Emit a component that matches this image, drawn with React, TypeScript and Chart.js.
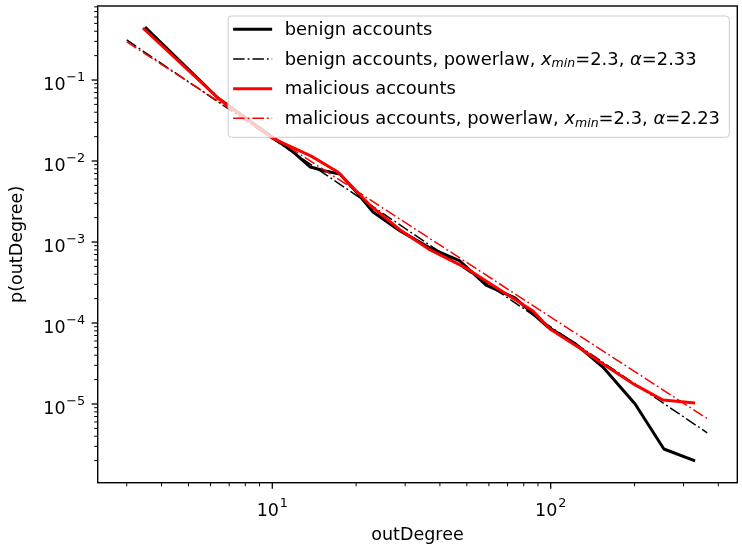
import React, { useEffect, useRef } from 'react';
import { Chart, registerables } from 'chart.js';

Chart.register(...registerables);

// ---------- data ----------
const benignDegree = [3.49, 6.38, 10.0, 11.9, 13.7, 15.5, 17.5, 20.2, 23.0, 28.8, 36.9, 47.2, 58.6, 74.4, 97.8, 123, 154, 201, 255, 330];
const benignProb = [0.451, 0.06, 0.0198, 0.0129, 0.00843, 0.00752, 0.00691, 0.00403, 0.00235, 0.00137, 0.000843, 0.000583, 0.000294, 0.000204, 8.9e-5, 5.5e-5, 2.86e-5, 1.0e-5, 2.78e-6, 1.98e-6];

const maliciousDegree = [3.43, 6.38, 10.0, 13.8, 17.2, 22.4, 28.8, 36.9, 49.6, 65.8, 86.4, 99.4, 127, 158, 201, 253, 330];
const maliciousProb = [0.4385, 0.06, 0.0192, 0.0115, 0.00732, 0.00286, 0.00141, 0.000796, 0.000478, 0.000256, 0.000141, 8.43e-5, 4.91e-5, 2.94e-5, 1.72e-5, 1.12e-5, 1.03e-5];

const benignFitDegree = [3.0, 365];
const benignFitProb = [0.312, 4.4e-6];
const maliciousFitDegree = [3.0, 365];
const maliciousFitProb = [0.296, 6.6e-6];

const xLimits = [2.36, 468];
const yLimits = [1.067e-6, 0.82];

const xTickValues = [10, 100];
const xTickExponents = ['1', '2'];
const yTickValues = [1e-1, 1e-2, 1e-3, 1e-4, 1e-5];
const yTickExponents = ['\u22121', '\u22122', '\u22123', '\u22124', '\u22125'];

const seriesLabels = [
  'benign accounts',
  'benign accounts, powerlaw, $x_{min}$=2.3, $\\alpha$=2.33',
  'malicious accounts',
  'malicious accounts, powerlaw, $x_{min}$=2.3, $\\alpha$=2.23',
];
const xTitle = 'outDegree';
const yTitle = 'p(outDegree)';

// ---------- helpers ----------
const FAMILY = '"DejaVu Sans"';
const FS = 17.5;
const LFS = 17.9;
const SUP = 12.8;
const fnt = (size: number, italic = false) => `${italic ? 'italic ' : ''}${size}px ${FAMILY}`;

type Seg = { t: string; it?: boolean; sub?: boolean };
function parseMath(label: string): Seg[] {
  const segs: Seg[] = [];
  label.split('$').forEach((p, i) => {
    if (!p) return;
    if (i % 2 === 0) {
      segs.push({ t: p });
    } else {
      const s = p.replace(/\\alpha/g, '\u03b1');
      const m = s.match(/^(.*?)_\{(.*?)\}(.*)$/);
      if (m) {
        if (m[1]) segs.push({ t: m[1], it: true });
        segs.push({ t: m[2], it: true, sub: true });
        if (m[3]) segs.push({ t: m[3], it: true });
      } else {
        segs.push({ t: s, it: true });
      }
    }
  });
  return segs;
}
const plainLabel = (l: string) => l.replace(/\$/g, '').replace(/\\alpha/g, '\u03b1').replace(/_\{(.*?)\}/g, '_$1');

const toPoints = (xs: number[], ys: number[]) => xs.map((x, i) => ({ x, y: ys[i] }));

function drawPow(ctx: CanvasRenderingContext2D, base: string, exp: string, x: number, baseline: number, align: 'center' | 'right') {
  ctx.font = fnt(FS);
  const wb = ctx.measureText(base).width;
  ctx.font = fnt(SUP);
  const we = ctx.measureText(exp).width;
  const gap = 0.8;
  const total = wb + gap + we;
  const x0 = align === 'center' ? x - total / 2 : x - total;
  ctx.textAlign = 'left';
  ctx.textBaseline = 'alphabetic';
  ctx.fillStyle = '#000';
  ctx.font = fnt(FS);
  ctx.fillText(base, x0, baseline);
  ctx.font = fnt(SUP);
  ctx.fillText(exp, x0 + wb + gap, baseline - 8.5);
}

function minorMajorTicks(min: number, max: number) {
  const out: { v: number; major: boolean }[] = [];
  const e0 = Math.floor(Math.log10(min));
  const e1 = Math.ceil(Math.log10(max));
  for (let e = e0; e <= e1; e++) {
    for (let m = 1; m <= 9; m++) {
      const v = m * Math.pow(10, e);
      if (v >= min * 0.9999 && v <= max * 1.0001) out.push({ v, major: m === 1 });
    }
  }
  return out;
}

const mplPlugin = {
  id: 'mplDecor',
  afterDatasetsDraw(chart: any) {
    const { ctx, chartArea: a, scales } = chart;
    const xs = scales.x;
    const ys = scales.y;
    ctx.save();
    ctx.strokeStyle = '#000';
    for (const t of minorMajorTicks(xLimits[0], xLimits[1])) {
      const px = xs.getPixelForValue(t.v);
      ctx.lineWidth = t.major ? 1.3 : 1.0;
      ctx.beginPath();
      ctx.moveTo(px, a.bottom);
      ctx.lineTo(px, a.bottom + (t.major ? 6.1 : 3.5));
      ctx.stroke();
    }
    for (const t of minorMajorTicks(yLimits[0], yLimits[1])) {
      const py = ys.getPixelForValue(t.v);
      ctx.lineWidth = t.major ? 1.3 : 1.0;
      ctx.beginPath();
      ctx.moveTo(a.left, py);
      ctx.lineTo(a.left - (t.major ? 6.1 : 3.5), py);
      ctx.stroke();
    }
    ctx.lineWidth = 1.4;
    ctx.strokeStyle = '#000';
    ctx.strokeRect(a.left, a.top, a.right - a.left, a.bottom - a.top);
    xTickValues.forEach((v, i) => {
      drawPow(ctx, '10', xTickExponents[i], xs.getPixelForValue(v), a.bottom + 33, 'center');
    });
    yTickValues.forEach((v, i) => {
      drawPow(ctx, '10', yTickExponents[i], a.left - 12.5, ys.getPixelForValue(v) + 9.7, 'right');
    });
    ctx.restore();
  },
  afterDraw(chart: any) {
    const { ctx, chartArea: a } = chart;
    const dsets = chart.data.datasets;
    ctx.save();
    const rows = seriesLabels.map((l) => parseMath(l));
    const widths = rows.map((segs) =>
      segs.reduce((w, s) => {
        ctx.font = fnt(s.sub ? LFS * 0.7 : LFS, s.it);
        return w + ctx.measureText(s.t).width;
      }, 0)
    );
    const maxW = Math.max(...widths);
    const right = a.right - 8;
    const top = a.top + 10;
    const left = right - (56.6 + maxW + 9.3);
    const bottom = top + 121.3;
    ctx.beginPath();
    ctx.roundRect(left, top, right - left, bottom - top, 3.5);
    ctx.fillStyle = 'rgba(255,255,255,0.8)';
    ctx.fill();
    ctx.lineWidth = 1;
    ctx.strokeStyle = '#cccccc';
    ctx.stroke();
    rows.forEach((segs, i) => {
      const ds = dsets[i];
      const cy = top + 13.3 + i * 29.67;
      ctx.strokeStyle = ds.borderColor;
      ctx.lineWidth = ds.borderWidth;
      ctx.setLineDash(ds.borderDash || []);
      ctx.beginPath();
      ctx.moveTo(left + 5, cy);
      ctx.lineTo(left + 44, cy);
      ctx.stroke();
      ctx.setLineDash([]);
      let x = left + 56.6;
      ctx.fillStyle = '#000';
      ctx.textAlign = 'left';
      ctx.textBaseline = 'alphabetic';
      for (const s of segs) {
        ctx.font = fnt(s.sub ? LFS * 0.7 : LFS, s.it);
        ctx.fillText(s.t, x, cy + 5.8 + (s.sub ? 2.6 : 0));
        x += ctx.measureText(s.t).width;
      }
    });
    ctx.restore();
  },
};

export default function App() {
  const ref = useRef<HTMLCanvasElement | null>(null);
  useEffect(() => {
    document.body.style.margin = '0';
    Chart.defaults.font.family = FAMILY;
    const dashDot = [11.5, 3, 1.8, 3];
    const chart = new Chart(ref.current as HTMLCanvasElement, {
      type: 'scatter',
      data: {
        datasets: [
          {
            label: plainLabel(seriesLabels[0]),
            data: toPoints(benignDegree, benignProb),
            showLine: true,
            borderColor: '#000000',
            backgroundColor: '#000000',
            borderWidth: 3,
            borderJoinStyle: 'round',
            pointRadius: 0,
            order: 4,
          },
          {
            label: plainLabel(seriesLabels[1]),
            data: toPoints(benignFitDegree, benignFitProb),
            showLine: true,
            borderColor: '#000000',
            backgroundColor: '#000000',
            borderWidth: 1.5,
            borderDash: dashDot,
            pointRadius: 0,
            order: 3,
          },
          {
            label: plainLabel(seriesLabels[2]),
            data: toPoints(maliciousDegree, maliciousProb),
            showLine: true,
            borderColor: '#ff0000',
            backgroundColor: '#ff0000',
            borderWidth: 3,
            borderJoinStyle: 'round',
            pointRadius: 0,
            order: 2,
          },
          {
            label: plainLabel(seriesLabels[3]),
            data: toPoints(maliciousFitDegree, maliciousFitProb),
            showLine: true,
            borderColor: '#ff0000',
            backgroundColor: '#ff0000',
            borderWidth: 1.5,
            borderDash: dashDot,
            pointRadius: 0,
            order: 1,
          },
        ],
      } as any,
      options: {
        animation: false,
        responsive: false,
        devicePixelRatio: 1,
        layout: { padding: { left: 0, top: 6, right: 4.7, bottom: 0 } },
        plugins: { legend: { display: false }, tooltip: { enabled: false } },
        scales: {
          x: {
            type: 'logarithmic',
            min: xLimits[0],
            max: xLimits[1],
            grid: { display: false },
            border: { display: false },
            ticks: { display: false },
            title: {
              display: true,
              text: xTitle,
              color: '#000',
              font: { family: FAMILY, size: FS },
              padding: { top: 0, bottom: 4.1 },
            },
            afterFit: (s: any) => {
              s.height = 67.3;
            },
          },
          y: {
            type: 'logarithmic',
            min: yLimits[0],
            max: yLimits[1],
            grid: { display: false },
            border: { display: false },
            ticks: { display: false },
            title: {
              display: true,
              text: yTitle,
              color: '#000',
              font: { family: FAMILY, size: FS },
              padding: { top: 7, bottom: 0 },
            },
            afterFit: (s: any) => {
              s.width = 97.7;
            },
          },
        },
      } as any,
      plugins: [mplPlugin],
    });
    return () => chart.destroy();
  }, []);
  return (
    <div style={{ width: 742, height: 550 }}>
      <canvas ref={ref} width={742} height={550} style={{ display: 'block' }} />
    </div>
  );
}
